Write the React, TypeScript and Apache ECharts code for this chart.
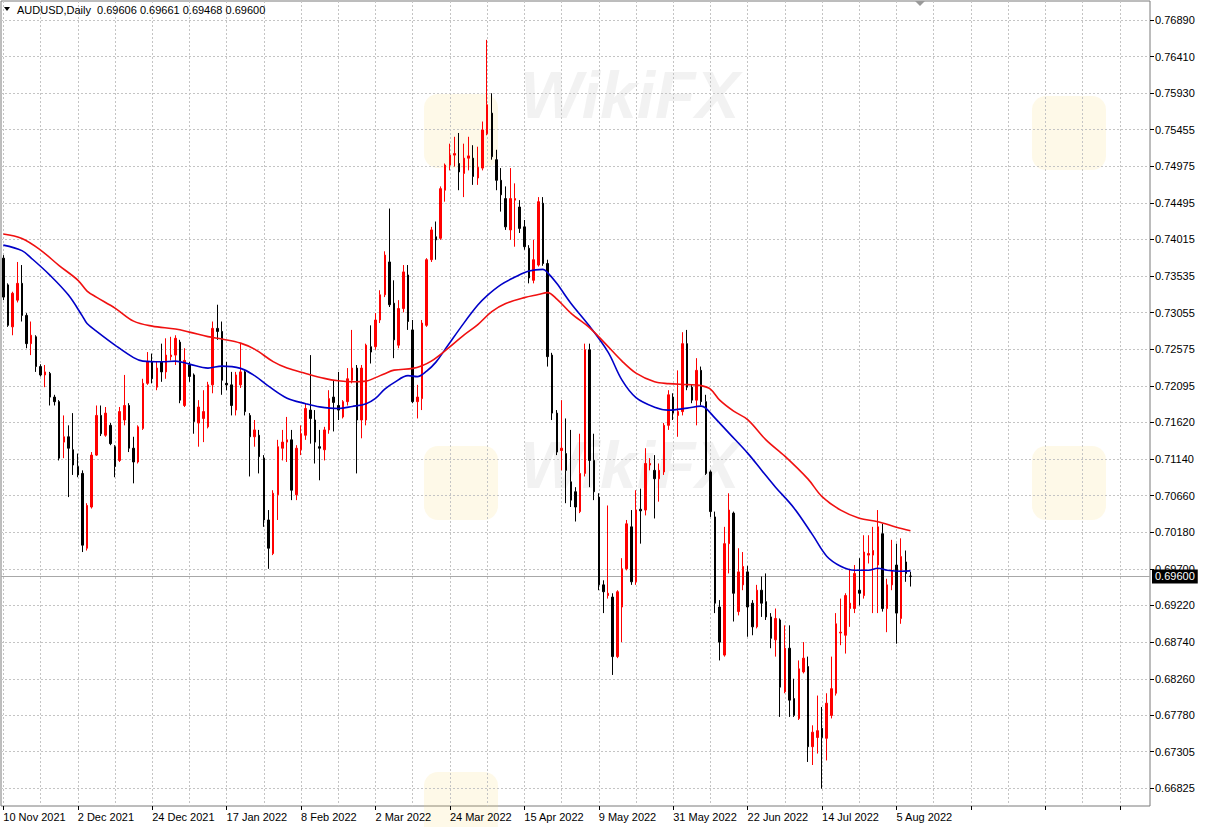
import React, { useEffect, useRef } from "react";
import * as echarts from "echarts";

// ---------- DATA ----------
const SYMBOL_TITLE = "AUDUSD,Daily";
const FIRST_BAR_DATE = [2021, 10, 10]; // 10 Nov 2021 (month 0-based)
const EMPTY_SLOTS = 51; // empty space to the right of the last bar
const MONTHS = ["Jan", "Feb", "Mar", "Apr", "May", "Jun", "Jul", "Aug", "Sep", "Oct", "Nov", "Dec"];

// [open, close, low, high]
const OHLC: number[][] = [
  [0.7377, 0.7326, 0.7322, 0.7381], [0.7342, 0.7289, 0.7287, 0.7344], [0.7287, 0.7331, 0.7276, 0.7333],
  [0.7322, 0.7344, 0.7319, 0.7372], [0.7344, 0.7302, 0.7294, 0.7368], [0.7302, 0.7265, 0.7259, 0.7305],
  [0.7265, 0.7276, 0.7250, 0.7294], [0.7274, 0.7235, 0.7228, 0.7276], [0.7235, 0.7224, 0.7222, 0.7238],
  [0.7224, 0.7228, 0.7208, 0.7237], [0.7226, 0.7195, 0.7184, 0.7228], [0.7195, 0.7189, 0.7184, 0.7198],
  [0.7189, 0.7115, 0.7112, 0.7191], [0.7136, 0.7143, 0.7115, 0.7171], [0.7143, 0.7128, 0.7064, 0.7158],
  [0.7126, 0.7106, 0.7093, 0.7174], [0.7104, 0.7093, 0.7090, 0.7121], [0.7095, 0.7001, 0.6992, 0.7099],
  [0.6997, 0.7053, 0.6994, 0.7056], [0.7051, 0.7119, 0.7049, 0.7123], [0.7119, 0.7171, 0.7118, 0.7184],
  [0.7171, 0.7147, 0.7144, 0.7184], [0.7145, 0.7174, 0.7143, 0.7182], [0.7158, 0.7134, 0.7132, 0.7161],
  [0.7130, 0.7104, 0.7090, 0.7132], [0.7112, 0.7176, 0.7110, 0.7182], [0.7165, 0.7184, 0.7158, 0.7224],
  [0.7184, 0.7128, 0.7123, 0.7187], [0.7128, 0.7110, 0.7082, 0.7143], [0.7110, 0.7156, 0.7108, 0.7158],
  [0.7154, 0.7213, 0.7152, 0.7219], [0.7213, 0.7241, 0.7211, 0.7254], [0.7241, 0.7219, 0.7213, 0.7252],
  [0.7208, 0.7233, 0.7204, 0.7241], [0.7241, 0.7228, 0.7215, 0.7265], [0.7228, 0.7250, 0.7219, 0.7272],
  [0.7248, 0.7250, 0.7243, 0.7274], [0.7250, 0.7272, 0.7237, 0.7276], [0.7267, 0.7191, 0.7187, 0.7270],
  [0.7184, 0.7243, 0.7182, 0.7259], [0.7237, 0.7222, 0.7215, 0.7241], [0.7224, 0.7163, 0.7147, 0.7226],
  [0.7161, 0.7182, 0.7130, 0.7191], [0.7167, 0.7176, 0.7136, 0.7204], [0.7156, 0.7211, 0.7154, 0.7215],
  [0.7211, 0.7285, 0.7200, 0.7294], [0.7285, 0.7281, 0.7270, 0.7316], [0.7281, 0.7217, 0.7198, 0.7294],
  [0.7213, 0.7211, 0.7204, 0.7241], [0.7211, 0.7184, 0.7171, 0.7228], [0.7178, 0.7224, 0.7171, 0.7228],
  [0.7211, 0.7228, 0.7207, 0.7265], [0.7228, 0.7176, 0.7171, 0.7230], [0.7171, 0.7143, 0.7091, 0.7174],
  [0.7143, 0.7152, 0.7130, 0.7165], [0.7145, 0.7117, 0.7095, 0.7152], [0.7115, 0.7034, 0.7025, 0.7119],
  [0.7034, 0.6997, 0.6970, 0.7047], [0.6990, 0.7069, 0.6988, 0.7073], [0.7067, 0.7130, 0.7034, 0.7139],
  [0.7128, 0.7136, 0.7112, 0.7152], [0.7136, 0.7139, 0.7110, 0.7169], [0.7139, 0.7073, 0.7060, 0.7152],
  [0.7067, 0.7128, 0.7060, 0.7132], [0.7126, 0.7147, 0.7119, 0.7158], [0.7145, 0.7180, 0.7139, 0.7187],
  [0.7178, 0.7167, 0.7134, 0.7250], [0.7165, 0.7136, 0.7108, 0.7178], [0.7130, 0.7128, 0.7086, 0.7152],
  [0.7126, 0.7152, 0.7112, 0.7156], [0.7152, 0.7193, 0.7147, 0.7204], [0.7195, 0.7188, 0.7150, 0.7217],
  [0.7184, 0.7178, 0.7165, 0.7228], [0.7169, 0.7189, 0.7167, 0.7191], [0.7189, 0.7219, 0.7184, 0.7233],
  [0.7217, 0.7233, 0.7213, 0.7283], [0.7233, 0.7165, 0.7095, 0.7237], [0.7165, 0.7233, 0.7141, 0.7237],
  [0.7165, 0.7263, 0.7158, 0.7265], [0.7261, 0.7254, 0.7239, 0.7289], [0.7261, 0.7296, 0.7257, 0.7305],
  [0.7296, 0.7329, 0.7292, 0.7335], [0.7329, 0.7381, 0.7326, 0.7386], [0.7372, 0.7316, 0.7313, 0.7442],
  [0.7318, 0.7270, 0.7246, 0.7348], [0.7263, 0.7311, 0.7259, 0.7322], [0.7311, 0.7359, 0.7306, 0.7368],
  [0.7355, 0.7294, 0.7283, 0.7368], [0.7283, 0.7189, 0.7187, 0.7296], [0.7189, 0.7195, 0.7167, 0.7211],
  [0.7193, 0.7292, 0.7178, 0.7296], [0.7289, 0.7375, 0.7287, 0.7377], [0.7375, 0.7414, 0.7372, 0.7418],
  [0.7405, 0.7401, 0.7375, 0.7425], [0.7403, 0.7468, 0.7401, 0.7471], [0.7466, 0.7499, 0.7451, 0.7501],
  [0.7499, 0.7512, 0.7492, 0.7527], [0.7512, 0.7514, 0.7497, 0.7536], [0.7501, 0.7490, 0.7466, 0.7541],
  [0.7488, 0.7508, 0.7457, 0.7527], [0.7508, 0.7511, 0.7492, 0.7536], [0.7508, 0.7484, 0.7473, 0.7525],
  [0.7482, 0.7496, 0.7473, 0.7523], [0.7495, 0.7545, 0.7492, 0.7556], [0.7540, 0.7578, 0.7538, 0.7663],
  [0.7567, 0.7510, 0.7506, 0.7593], [0.7506, 0.7479, 0.7466, 0.7519], [0.7479, 0.7460, 0.7438, 0.7495],
  [0.7455, 0.7418, 0.7414, 0.7471], [0.7414, 0.7455, 0.7401, 0.7495], [0.7453, 0.7455, 0.7392, 0.7475],
  [0.7444, 0.7416, 0.7410, 0.7453], [0.7418, 0.7392, 0.7388, 0.7427], [0.7390, 0.7351, 0.7344, 0.7394],
  [0.7348, 0.7375, 0.7344, 0.7401], [0.7368, 0.7451, 0.7366, 0.7457], [0.7449, 0.7370, 0.7367, 0.7457],
  [0.7370, 0.7248, 0.7235, 0.7375], [0.7250, 0.7174, 0.7165, 0.7253], [0.7174, 0.7123, 0.7119, 0.7178],
  [0.7125, 0.7128, 0.7099, 0.7191], [0.7121, 0.7099, 0.7056, 0.7167], [0.7084, 0.7060, 0.7051, 0.7152],
  [0.7071, 0.7051, 0.7032, 0.7077], [0.7045, 0.7095, 0.7043, 0.7147], [0.7095, 0.7257, 0.7091, 0.7265],
  [0.7257, 0.7112, 0.7077, 0.7265], [0.7112, 0.7071, 0.7060, 0.7147], [0.7064, 0.6949, 0.6942, 0.7069],
  [0.6949, 0.6940, 0.6912, 0.6955], [0.6935, 0.6938, 0.6931, 0.7053], [0.6933, 0.6855, 0.6831, 0.6938],
  [0.6855, 0.6940, 0.6853, 0.6942], [0.6920, 0.6970, 0.6874, 0.6984], [0.6970, 0.7029, 0.6968, 0.7034],
  [0.7025, 0.6953, 0.6949, 0.7047], [0.6953, 0.7047, 0.6949, 0.7073], [0.7048, 0.7046, 0.7003, 0.7075],
  [0.7047, 0.7108, 0.7040, 0.7128], [0.7106, 0.7108, 0.7099, 0.7115], [0.7099, 0.7088, 0.7036, 0.7119],
  [0.7088, 0.7099, 0.7058, 0.7108], [0.7097, 0.7158, 0.7093, 0.7161], [0.7158, 0.7198, 0.7152, 0.7204],
  [0.7195, 0.7174, 0.7165, 0.7200], [0.7171, 0.7176, 0.7143, 0.7230], [0.7176, 0.7265, 0.7171, 0.7280],
  [0.7265, 0.7208, 0.7204, 0.7283], [0.7208, 0.7191, 0.7187, 0.7211], [0.7191, 0.7230, 0.7158, 0.7246],
  [0.7230, 0.7189, 0.7184, 0.7235], [0.7189, 0.7095, 0.7093, 0.7198], [0.7097, 0.7045, 0.7038, 0.7099],
  [0.7038, 0.6925, 0.6912, 0.7045], [0.6920, 0.6874, 0.6850, 0.6929], [0.6857, 0.7003, 0.6855, 0.7025],
  [0.7003, 0.7047, 0.6964, 0.7069], [0.7043, 0.6938, 0.6901, 0.7045], [0.6914, 0.6966, 0.6909, 0.6997],
  [0.6949, 0.6973, 0.6942, 0.6992], [0.6966, 0.6920, 0.6881, 0.6974], [0.6925, 0.6894, 0.6883, 0.6929],
  [0.6894, 0.6942, 0.6892, 0.6949], [0.6942, 0.6925, 0.6907, 0.6960], [0.6927, 0.6907, 0.6903, 0.6964],
  [0.6907, 0.6879, 0.6866, 0.6912], [0.6877, 0.6905, 0.6855, 0.6918], [0.6903, 0.6815, 0.6776, 0.6905],
  [0.6809, 0.6866, 0.6807, 0.6896], [0.6866, 0.6798, 0.6776, 0.6896], [0.6800, 0.6778, 0.6776, 0.6826],
  [0.6774, 0.6839, 0.6772, 0.6850], [0.6835, 0.6853, 0.6833, 0.6874], [0.6842, 0.6737, 0.6717, 0.6855],
  [0.6737, 0.6756, 0.6713, 0.6765], [0.6749, 0.6758, 0.6728, 0.6804], [0.6761, 0.6749, 0.6682, 0.6789],
  [0.6748, 0.6794, 0.6719, 0.6807], [0.6778, 0.6813, 0.6774, 0.6855], [0.6807, 0.6898, 0.6804, 0.6912],
  [0.6886, 0.6887, 0.6870, 0.6931], [0.6883, 0.6935, 0.6859, 0.6938], [0.6918, 0.6925, 0.6894, 0.6970],
  [0.6918, 0.6964, 0.6912, 0.6975], [0.6942, 0.6938, 0.6922, 0.6984], [0.6935, 0.6992, 0.6931, 0.7014],
  [0.6988, 0.6990, 0.6977, 0.7014], [0.6988, 0.6994, 0.6912, 0.7025], [0.6975, 0.7025, 0.6912, 0.7047],
  [0.7016, 0.6918, 0.6914, 0.7029], [0.6918, 0.6949, 0.6887, 0.6957], [0.6949, 0.6968, 0.6942, 0.7008],
  [0.6975, 0.6912, 0.6872, 0.7003], [0.6905, 0.6986, 0.6898, 0.7010], [0.6979, 0.6964, 0.6953, 0.6994],
  [0.69606, 0.69600, 0.69468, 0.69661],
];

// Moving averages: [bar index, value]
const MA_BLUE: number[][] = [
  [0, 0.73941], [4, 0.73869], [6, 0.73771], [10, 0.73548], [14, 0.73286], [17, 0.73011], [18, 0.72913],
  [20, 0.72814], [24, 0.72631], [28, 0.72467], [30, 0.72421], [34, 0.72412], [37, 0.72421], [40, 0.72382],
  [44, 0.72330], [47, 0.72356], [51, 0.72326], [54, 0.72231], [57, 0.72094], [61, 0.71936], [65, 0.71864],
  [68, 0.71822], [72, 0.71801], [75, 0.71827], [78, 0.71864], [80, 0.71932], [82, 0.72054], [84, 0.72139],
  [87, 0.72231], [89, 0.72218], [91, 0.72290], [93, 0.72408], [95, 0.72578], [99, 0.72919], [102, 0.73155],
  [104, 0.73280], [107, 0.73424], [110, 0.73522], [113, 0.73601], [116, 0.73623], [117, 0.73581],
  [119, 0.73437], [122, 0.73180], [126, 0.72880], [130, 0.72539], [133, 0.72172], [136, 0.71943],
  [140, 0.71818], [143, 0.71779], [147, 0.71805], [150, 0.71832], [151, 0.71805], [153, 0.71674],
  [156, 0.71478], [160, 0.71216], [163, 0.70993], [166, 0.70770], [170, 0.70495], [174, 0.70141],
  [177, 0.69866], [180, 0.69735], [183, 0.69682], [186, 0.69682], [188, 0.69708], [190, 0.69682],
  [193, 0.69669], [195, 0.69673],
];
const MA_RED: number[][] = [
  [0, 0.74086], [4, 0.74027], [8, 0.73876], [12, 0.73673], [16, 0.73483], [18, 0.73339], [20, 0.73260],
  [24, 0.73116], [28, 0.72945], [32, 0.72880], [37, 0.72841], [40, 0.72801], [44, 0.72742], [47, 0.72710],
  [51, 0.72657], [54, 0.72578], [58, 0.72415], [61, 0.72330], [65, 0.72260], [69, 0.72195], [72, 0.72163],
  [75, 0.72150], [78, 0.72159], [80, 0.72205], [82, 0.72257], [84, 0.72303], [88, 0.72326], [90, 0.72362],
  [92, 0.72421], [95, 0.72559], [99, 0.72762], [102, 0.72900], [105, 0.73070], [108, 0.73175],
  [112, 0.73253], [115, 0.73293], [117, 0.73319], [119, 0.73234], [122, 0.73050], [126, 0.72860],
  [129, 0.72677], [133, 0.72421], [136, 0.72264], [140, 0.72150], [143, 0.72126], [147, 0.72113],
  [150, 0.72100], [152, 0.72054], [154, 0.71910], [157, 0.71766], [160, 0.71655], [164, 0.71386],
  [168, 0.71176], [173, 0.70875], [176, 0.70646], [180, 0.70469], [184, 0.70364], [188, 0.70318],
  [192, 0.70246], [195, 0.70200],
];

const Y_TICKS = [
  0.66825, 0.67305, 0.6778, 0.6826, 0.6874, 0.6922, 0.697, 0.7018, 0.7066, 0.7114, 0.7162,
  0.72095, 0.72575, 0.73055, 0.73535, 0.74015, 0.74495, 0.74975, 0.75455, 0.7593, 0.7641, 0.7689,
];
const Y_MIN = 0.66593;
const Y_MAX = 0.77139;

// ---------- HELPERS ----------
function buildCategories(count: number, blanks: number): string[] {
  const out: string[] = [];
  const d = new Date(Date.UTC(FIRST_BAR_DATE[0], FIRST_BAR_DATE[1], FIRST_BAR_DATE[2]));
  while (out.length < count) {
    const wd = d.getUTCDay();
    if (wd !== 0 && wd !== 6) {
      out.push(`${d.getUTCDate()} ${MONTHS[d.getUTCMonth()]} ${d.getUTCFullYear()}`);
    }
    d.setUTCDate(d.getUTCDate() + 1);
  }
  for (let i = 0; i < blanks; i++) out.push("");
  return out;
}

const FONT = "'Liberation Sans', Arial, sans-serif";
const GRID_LINE = { color: "#c4c4c4", type: [2, 2] as number[], width: 1 };

function buildOption(): any {
  const categories = buildCategories(OHLC.length, EMPTY_SLOTS);
  const last = OHLC[OHLC.length - 1];
  const headerText = `${SYMBOL_TITLE}  ${last[0].toFixed(5)} ${last[3].toFixed(5)} ${last[2].toFixed(5)} ${last[1].toFixed(5)}`;

  const wmText = (x: number, y: number) => ({
    type: "text",
    x,
    y,
    z: 0,
    silent: true,
    style: {
      text: "WikiFX",
      font: "bold italic 66px 'Liberation Sans', Arial, sans-serif",
      fill: "rgba(110,110,110,0.09)",
    },
  });
  const wmLogo = (x: number, y: number) => ({
    type: "rect",
    x,
    y,
    z: 0,
    silent: true,
    shape: { width: 74, height: 74, r: 14 },
    style: { fill: "rgba(250,215,110,0.16)" },
  });

  return {
    animation: false,
    backgroundColor: "#ffffff",
    grid: {
      left: 1,
      right: 55,
      top: 1,
      bottom: 21,
      show: true,
      borderColor: "#7a7a7a",
      borderWidth: 1,
      backgroundColor: "transparent",
    },
    graphic: [
      wmLogo(424, 94), wmText(520, 62), wmLogo(1032, 96),
      wmLogo(424, 446), wmText(520, 432), wmLogo(1032, 446),
      wmLogo(424, 772),
      {
        type: "polygon",
        z: 100,
        silent: true,
        shape: { points: [[4, 7], [10, 7], [7, 11]] },
        style: { fill: "#000" },
      },
      {
        type: "polygon",
        z: 100,
        silent: true,
        shape: { points: [[915, 1], [925, 1], [920, 6]] },
        style: { fill: "#9a9a9a" },
      },
      {
        type: "text",
        x: 17,
        y: 4,
        z: 100,
        silent: true,
        style: { text: headerText, font: `11px ${FONT}`, fill: "#000" },
      },
    ],
    xAxis: {
      type: "category",
      data: categories,
      boundaryGap: true,
      axisLine: { show: false },
      axisTick: {
        show: true,
        interval: 15,
        alignWithLabel: true,
        length: 4,
        lineStyle: { color: "#000" },
      },
      axisLabel: {
        interval: 15,
        align: "left",
        margin: 5,
        fontSize: 11,
        fontFamily: FONT,
        color: "#000",
      },
      splitLine: {
        show: true,
        interval: 7,
        alignWithLabel: true,
        lineStyle: GRID_LINE,
      },
    },
    yAxis: {
      type: "value",
      position: "right",
      min: Y_MIN,
      max: Y_MAX,
      axisLine: { show: false },
      axisTick: {
        show: true,
        customValues: Y_TICKS,
        length: 4,
        lineStyle: { color: "#000" },
      },
      axisLabel: {
        customValues: Y_TICKS,
        formatter: (v: number) => v.toFixed(5),
        margin: 5,
        fontSize: 11,
        fontFamily: FONT,
        color: "#000",
      },
      splitLine: {
        show: true,
        customValues: Y_TICKS,
        lineStyle: GRID_LINE,
      },
    },
    series: [
      {
        type: "candlestick",
        data: OHLC,
        barWidth: 2,
        clip: true,
        z: 3,
        itemStyle: {
          color: "#ff0000",
          color0: "#000000",
          borderColor: "#ff0000",
          borderColor0: "#000000",
          borderColorDoji: "#000000",
          borderWidth: 1,
        },
      },
      {
        type: "line",
        data: MA_BLUE,
        symbol: "none",
        smooth: 0.35,
        z: 4,
        lineStyle: { color: "#0000c8", width: 1.6 },
        markLine: {
          silent: true,
          symbol: "none",
          precision: 5,
          z: 1,
          data: [{ yAxis: last[1] }],
          lineStyle: { color: "#a8a8a8", type: "solid", width: 1 },
          label: {
            show: true,
            position: "end",
            distance: 2,
            formatter: () => last[1].toFixed(5),
            backgroundColor: "#000",
            color: "#fff",
            padding: [2, 3, 1, 3],
            fontSize: 11,
            fontFamily: FONT,
          },
        },
      },
      {
        type: "line",
        data: MA_RED,
        symbol: "none",
        smooth: 0.35,
        z: 4,
        lineStyle: { color: "#f01010", width: 1.6 },
      },
    ],
  };
}

export default function App() {
  const ref = useRef<HTMLDivElement>(null);
  useEffect(() => {
    if (!ref.current) return;
    const chart = echarts.init(ref.current, null, { renderer: "svg" });
    chart.setOption(buildOption());
    return () => chart.dispose();
  }, []);
  return (
    <div
      ref={ref}
      style={{ position: "fixed", left: 0, top: 0, width: 1205, height: 827, background: "#fff" }}
    />
  );
}
